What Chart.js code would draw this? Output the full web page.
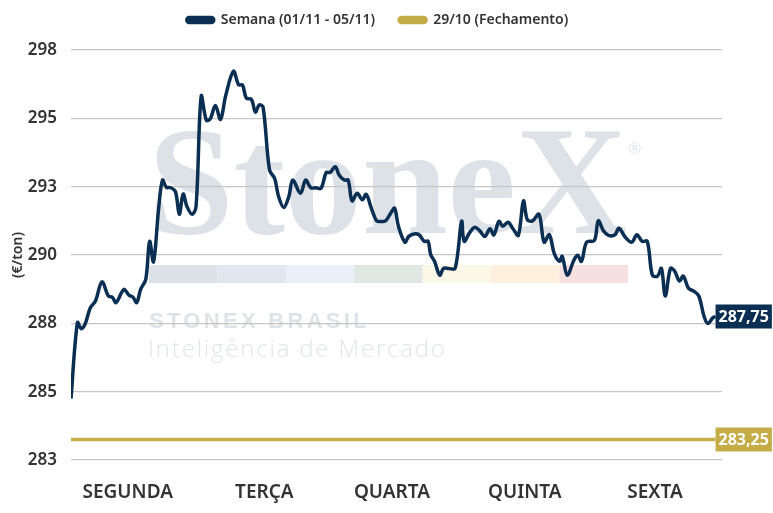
<!DOCTYPE html>
<html>
<head>
<meta charset="utf-8">
<script src="https://cdn.jsdelivr.net/npm/chart.js@4.4.0/dist/chart.umd.min.js"></script>
<style>
  html, body { margin: 0; padding: 0; background: #fff; }
  #wrap { width: 773px; height: 513px; }
</style>
</head>
<body>
<div id="wrap"><canvas id="grafico"></canvas></div>
<script>
// tempo em dias desde a abertura de segunda (0 a 5)
const tempo = [
  0.00, 0.05, 0.08, 0.11, 0.15, 0.19, 0.24, 0.29, 0.32, 0.35,
  0.41, 0.45, 0.48, 0.51, 0.54, 0.58, 0.61, 0.64, 0.68, 0.71,
  0.74, 0.77, 0.81, 0.84, 0.87, 0.90, 0.94, 0.97, 1.01, 1.05,
  1.08, 1.12, 1.16, 1.20, 1.26, 1.30, 1.33, 1.36, 1.40, 1.43,
  1.46, 1.49, 1.54, 1.58, 1.61, 1.65, 1.69, 1.72, 1.78, 1.82,
  1.86, 1.90, 1.94, 1.98, 2.01, 2.05, 2.08, 2.12, 2.15, 2.18,
  2.22, 2.26, 2.29, 2.33, 2.37, 2.40, 2.44, 2.48, 2.51, 2.54,
  2.59, 2.62, 2.66, 2.70, 2.74, 2.77, 2.79, 2.82, 2.86, 2.89,
  2.93, 2.98, 3.03, 3.05, 3.09, 3.13, 3.17, 3.21, 3.25, 3.28,
  3.32, 3.35, 3.39, 3.43, 3.47, 3.51, 3.54, 3.58, 3.63, 3.67,
  3.71, 3.75, 3.79, 3.81, 3.85, 3.90, 3.93, 3.96, 4.00, 4.06,
  4.09, 4.13, 4.17, 4.22, 4.25, 4.30, 4.35, 4.39, 4.43, 4.47,
  4.51, 4.55, 4.58, 4.61, 4.65, 4.68, 4.72, 4.75, 4.79, 4.83,
  4.87, 4.91, 4.94, 4.98, 5.00
];

// Semana (01/11 - 05/11), €/ton
const semana = [
  284.75, 287.53, 287.30, 287.48, 288.07, 288.32, 289.02, 288.50, 288.46, 288.26,
  288.74, 288.53, 288.46, 288.26, 288.74, 289.11, 290.50, 289.75, 291.71, 292.74,
  292.47, 292.47, 292.32, 291.49, 292.23, 291.77, 291.49, 291.77, 295.81, 294.93,
  294.98, 295.47, 294.96, 295.83, 296.72, 296.23, 296.22, 295.74, 295.69, 295.23,
  295.49, 295.41, 293.11, 292.80, 292.14, 291.74, 292.14, 292.74, 292.26, 292.74,
  292.46, 292.46, 292.44, 293.02, 293.02, 293.23, 292.93, 292.74, 292.74, 291.98,
  292.26, 292.02, 292.22, 291.71, 291.25, 291.23, 291.25, 291.53, 291.71, 291.05,
  290.47, 290.68, 290.77, 290.74, 290.50, 290.50, 290.02, 289.77, 289.26, 289.51,
  289.51, 289.51, 291.23, 290.50, 290.80, 291.01, 290.89, 290.68, 290.96, 290.74,
  291.23, 291.05, 291.20, 290.95, 290.72, 291.98, 291.29, 291.25, 291.49, 290.47,
  290.74, 290.04, 289.77, 289.95, 289.26, 289.80, 289.99, 289.77, 290.47, 290.53,
  291.25, 290.89, 290.72, 290.74, 290.98, 290.65, 290.47, 290.74, 290.50, 290.50,
  289.26, 289.23, 289.51, 288.50, 289.51, 289.43, 289.05, 289.23, 288.78, 288.68,
  288.50, 287.77, 287.49, 287.71, 287.75
];

// 29/10 (Fechamento)
const fechamento = 283.25;
const inicioFim = [0, 5];

const dias = ['SEGUNDA', 'TERÇA', 'QUARTA', 'QUINTA', 'SEXTA'];
const posDias = [0.44, 1.50, 2.49, 3.52, 4.53];

const yMin = 282.5;
const yMax = 297.5;
const yPasso = 2.5;

const AZUL = '#0b2f52';
const OURO = '#c4ac46';
const TEXTO = '#333333';

const fmt = v => v.toFixed(2).replace('.', ',');

// marca d'agua StoneX, desenhada antes das grades
const marcaDagua = {
  id: 'marcaDagua',
  beforeDraw(chart) {
    const c = chart.ctx;
    c.save();
    c.fillStyle = '#ffffff';
    c.fillRect(0, 0, chart.width, chart.height);

    c.fillStyle = '#dde2e8';
    c.font = 'bold 154px "Liberation Serif"';
    c.textBaseline = 'alphabetic';
    c.fillText('StoneX', 148, 233);
    c.font = '16px "Liberation Sans"';
    c.fillText('®', 629, 154);

    const cores = ['#dce1e8', '#e1e7ef', '#eaf0f7', '#e0e8e3', '#fcf8e7', '#fdf1de', '#f6e0e0'];
    cores.forEach((cor, i) => {
      c.fillStyle = cor;
      c.fillRect(149 + i * 68.4, 265, 68.6, 18);
    });

    c.fillStyle = '#dfe3e8';
    c.font = 'bold 22px "Liberation Sans"';
    c.letterSpacing = '3.3px';
    c.fillText('STONEX BRASIL', 149, 328);
    c.letterSpacing = '1.8px';
    c.fillStyle = '#e2e5ea';
    c.font = '300 24px "Open Sans"';
    c.fillText('Inteligência de Mercado', 148, 357);
    c.restore();
  }
};

// legenda mais perto do topo e um pouco deslocada para a esquerda
const ajusteLegenda = {
  id: 'ajusteLegenda',
  afterLayout(chart) {
    const leg = chart.legend;
    leg.top -= 13;
    leg.bottom -= 13;
    leg.left -= 14;
    leg.right -= 14;
  }
};

// caixas com o ultimo valor de cada serie
const rotulosFinais = {
  id: 'rotulosFinais',
  afterDatasetsDraw(chart) {
    const c = chart.ctx;
    c.save();
    c.font = 'bold 16px "Noto Sans"';
    c.textBaseline = 'middle';
    chart.data.datasets.forEach((ds, i) => {
      const pts = chart.getDatasetMeta(i).data;
      const p = pts[pts.length - 1];
      const txt = fmt(ds.data[ds.data.length - 1].y);
      const w = c.measureText(txt).width + 6;
      c.fillStyle = ds.borderColor;
      c.fillRect(p.x, p.y - 12, w, 24);
      c.fillStyle = '#ffffff';
      c.fillText(txt, p.x + 3, p.y + 1);
    });
    c.restore();
  }
};

const ctx = document.getElementById('grafico').getContext('2d');
new Chart(ctx, {
  type: 'line',
  data: {
    datasets: [
      {
        label: 'Semana (01/11 - 05/11)',
        data: tempo.map((t, i) => ({ x: t, y: semana[i] })),
        borderColor: AZUL,
        backgroundColor: AZUL,
        borderWidth: 3.5,
        pointRadius: 0,
        tension: 0.35
      },
      {
        label: '29/10 (Fechamento)',
        data: inicioFim.map(t => ({ x: t, y: fechamento })),
        borderColor: OURO,
        backgroundColor: OURO,
        borderWidth: 3.5,
        pointRadius: 0
      }
    ]
  },
  options: {
    responsive: true,
    maintainAspectRatio: false,
    animation: false,
    layout: { padding: { left: 10, right: 0, top: 2, bottom: 8 } },
    plugins: {
      tooltip: { enabled: false },
      legend: {
        position: 'top',
        labels: {
          color: TEXTO,
          font: { family: 'Noto Sans', size: 14, weight: '600' },
          boxWidth: 27,
          boxHeight: 5,
          padding: 24,
          useBorderRadius: true,
          borderRadius: 2.5
        }
      }
    },
    scales: {
      x: {
        type: 'linear',
        min: 0,
        max: 5.05,
        grid: { display: false, drawTicks: false },
        border: { display: false },
        afterBuildTicks: axis => { axis.ticks = posDias.map(v => ({ value: v })); },
        afterFit: axis => { axis.height = 45; },
        ticks: {
          autoSkip: false,
          maxRotation: 0,
          padding: 21,
          color: TEXTO,
          font: { family: 'Noto Sans', size: 19, weight: '600' },
          callback: (v, i) => dias[i]
        }
      },
      y: {
        min: yMin,
        max: yMax,
        afterFit: axis => { axis.width = 61; },
        ticks: {
          stepSize: yPasso,
          padding: 14,
          color: TEXTO,
          font: { family: 'Noto Sans', size: 17, weight: '600' },
          callback: v => Math.round(v)
        },
        grid: { color: '#c6c6c6', lineWidth: 1.3, drawTicks: false },
        border: { display: false },
        title: {
          display: true,
          text: '(€/ton)',
          color: TEXTO,
          font: { family: 'Noto Sans', size: 14, weight: '600' },
          padding: { top: 0, bottom: 0 }
        }
      },
      // espaco a direita para as caixas de valor
      margem: {
        type: 'linear',
        position: 'right',
        display: true,
        grid: { display: false, drawTicks: false },
        border: { display: false },
        ticks: { display: false },
        afterFit: axis => { axis.width = 51; }
      }
    }
  },
  plugins: [marcaDagua, ajusteLegenda, rotulosFinais]
});
</script>
</body>
</html>
